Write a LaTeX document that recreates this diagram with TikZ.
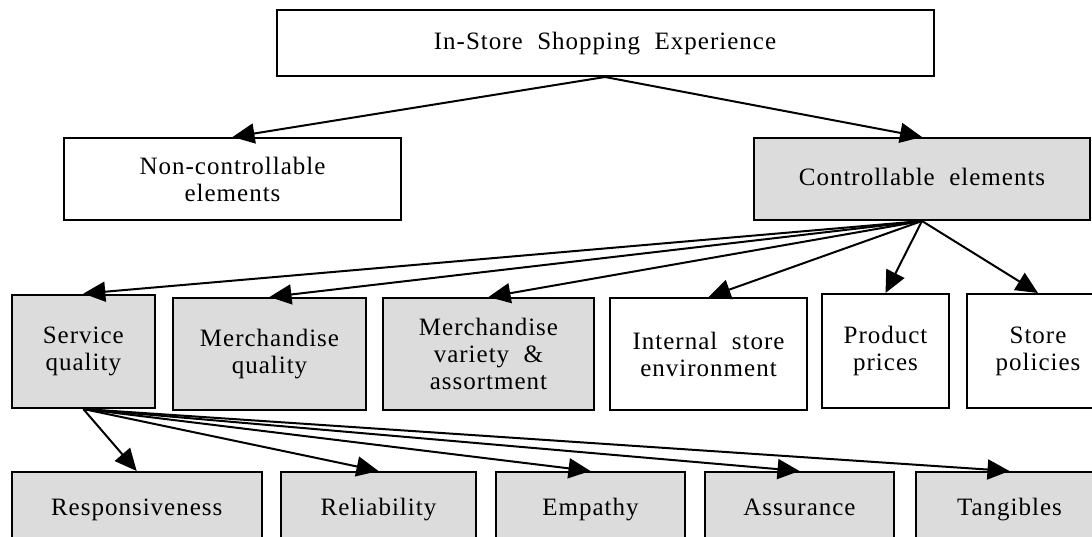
\documentclass[tikz,border=0pt]{standalone}
\usepackage{fontspec}
\setmainfont{Liberation Serif}[LetterSpace=4, WordSpace=2]
\usepackage{tikz}
\usetikzlibrary{arrows.meta}
\usetikzlibrary{positioning}
\definecolor{BoxGray}{RGB}{220,220,220}
\tikzstyle{box} = [draw, line width=1pt, fill=white, align=center, inner sep=0pt, font=\fontsize{12.5}{13.5}\selectfont]
\tikzstyle{grey box} = [box, fill=BoxGray]
\tikzstyle{one line} = [text height=8.6pt, text depth=2.6pt]
\tikzstyle{arrow} = [line width=1pt, black, -{Triangle[length=11pt, width=10pt]}]

\begin{document}
\begin{tikzpicture}[x=0.5pt, y=-0.5pt]
    \clip (0,0) rectangle (1092,536);
    \fill[white] (0,0) rectangle (1092,536);

    % top level
    \node[box, one line, minimum width=328.5pt, minimum height=33pt] (shop) at (605,43) {In-Store Shopping Experience};
    \node[box, minimum width=168.5pt, minimum height=41pt] (noncontrol) at (232.5,179) {Non-controllable\\elements};
    \node[grey box, one line, minimum width=168pt, minimum height=41pt] (control) at (922,179) {Controllable elements};

    % controllable elements
    \node[grey box, minimum width=71.75pt, minimum height=56.7pt] (service) at (83.3,351.3) {Service\\quality};
    \node[grey box, minimum width=96.5pt, minimum height=56pt] (merchquality) at (269.5,354) {Merchandise\\quality};
    \node[grey box, minimum width=105.5pt, minimum height=56pt] (merchvariety) at (488.5,354) {Merchandise\\variety \&\\assortment};
    \node[box, minimum width=98.5pt, minimum height=56pt] (environment) at (708.5,354) {Internal store\\environment};
    \node[box, minimum width=63.5pt, minimum height=57pt] (prices) at (885.5,351) {Product\\prices};
    \node[box, minimum width=71pt, minimum height=57pt] (policies) at (1038,351) {Store\\policies};

    % service quality dimensions
    \node[grey box, one line, minimum width=125pt, minimum height=37pt] (respons) at (136.7,509) {Responsiveness};
    \node[grey box, one line, minimum width=97.5pt, minimum height=37pt] (reliab) at (378.5,509) {Reliability};
    \node[grey box, one line, minimum width=94.5pt, minimum height=37pt] (empathy) at (590.5,509) {Empathy};
    \node[grey box, one line, minimum width=94.5pt, minimum height=37pt] (assur) at (799.5,509) {Assurance};
    \node[grey box, one line, minimum width=93.5pt, minimum height=37pt] (tangib) at (1009.5,509) {Tangibles};

    \draw[arrow] (shop.south) -- (noncontrol.north);
    \draw[arrow] (shop.south) -- (control.north);

    \foreach \target in {service, merchquality, merchvariety, environment, prices, policies}
        \draw[arrow] (control.south) -- (\target.north);

    \foreach \target in {respons, reliab, empathy, assur, tangib}
        \draw[arrow] (service.south) -- (\target.north);
\end{tikzpicture}
\end{document}
